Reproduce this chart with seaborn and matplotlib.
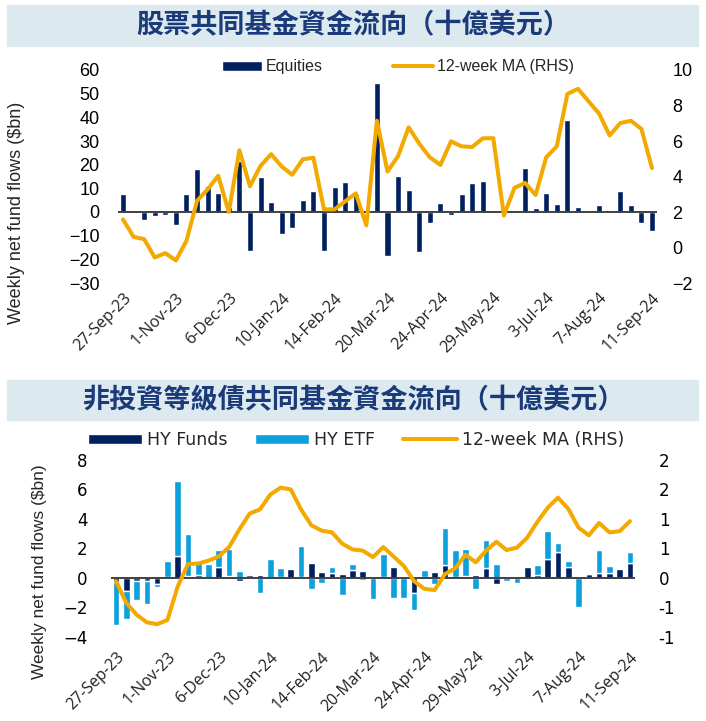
"""Weekly equity and high-yield fund flows with 12-week moving averages."""

import matplotlib

matplotlib.use("Agg")

import matplotlib.pyplot as plt
import numpy as np
import pandas as pd
import seaborn as sns
from matplotlib.patches import Rectangle

# ---- data -------------------------------------------------------------
weeks = pd.date_range("2023-09-27", periods=51, freq="7D")
week_labels = [f"{d.day}-{d.strftime('%b-%y')}" for d in weeks]

equity_flows = [7.7, 1.0, -3.4, -1.5, -1.3, -5.4, 7.7, 18.3, 11.0, 8.2,
                2.0, 21.5, -16.5, 14.8, 4.4, -9.4, -6.8, 4.9, 9.0, -16.5,
                10.4, 12.7, 7.8, 1.0, 54.4, -18.6, 15.4, 9.3, -16.9, -4.6,
                3.6, -1.1, 7.8, 12.4, 13.0, 0.8, 0.4, 0.0, 18.7, 1.7,
                8.0, 3.2, 39.0, 2.2, -0.3, 3.1, -0.4, 8.7, 3.0, -4.8, -8.2]
equity_ma = [1.58, 0.60, 0.47, -0.56, -0.32, -0.73, 0.38, 2.63, 3.27, 4.04,
             2.00, 5.48, 3.45, 4.60, 5.26, 4.56, 4.10, 4.97, 5.06, 2.15,
             2.15, 2.60, 3.05, 1.25, 7.14, 4.28, 5.15, 6.77, 5.85, 5.08,
             4.65, 5.98, 5.70, 5.66, 6.15, 6.16, 1.80, 3.36, 3.64, 2.96,
             5.08, 5.70, 8.65, 8.94, 8.24, 7.54, 6.31, 7.01, 7.14, 6.68, 4.47]

hy_funds = [-0.30, -0.93, -0.20, -0.25, -0.40, 0.05, 1.45, 0.10, 0.15, 0.00,
            0.70, 0.10, -0.25, 0.15, 0.15, 0.00, 0.05, 0.60, 0.05, 1.00,
            0.40, 0.30, 0.25, 0.50, 0.45, 0.05, 0.05, 0.70, 0.00, -1.05,
            0.05, 0.40, 0.85, 0.05, 0.10, 0.15, 0.65, -0.45, -0.05, 0.00,
            0.75, 0.20, 1.27, 1.73, 0.75, 0.00, 0.25, 0.35, 0.30, 0.60, 1.00]
hy_etf = [-2.90, -1.90, -1.30, -1.55, -0.25, 1.10, 5.15, 2.90, 0.95, 0.90,
          1.20, 1.85, 0.43, 0.10, -1.05, 1.30, 0.60, 0.00, 2.10, -0.80,
          -0.36, 0.40, -1.15, 0.45, -0.18, -1.45, 1.55, -1.40, -1.40, -1.15,
          0.45, -0.40, 2.55, 1.80, 1.85, -0.75, 1.90, 0.93, -0.15, -0.36,
          0.00, 0.66, 1.93, 0.63, 0.40, -2.00, 0.05, 1.55, 0.47, 0.00, 0.75]
hy_ma = [-0.06, -0.43, -0.63, -0.76, -0.79, -0.72, -0.15, 0.23, 0.24, 0.29,
         0.36, 0.52, 0.82, 1.09, 1.16, 1.41, 1.53, 1.50, 1.16, 0.89,
         0.80, 0.77, 0.58, 0.48, 0.46, 0.35, 0.52, 0.36, 0.20, -0.06,
         -0.19, -0.21, 0.06, 0.16, 0.39, 0.26, 0.46, 0.61, 0.47, 0.51,
         0.68, 0.95, 1.19, 1.36, 1.17, 0.85, 0.72, 0.93, 0.77, 0.79, 0.96]

eq_left_ticks = list(range(-30, 61, 10))
eq_right_ticks = list(range(-2, 11, 2))
hy_left_ticks = list(range(-4, 9, 2))
hy_right_ticks = [-1, -0.5, 0, 0.5, 1, 1.5, 2]
hy_right_labels = ["-1", "-1", "0", "1", "1", "2", "2"]  # Excel "0" format rounding

TITLE_TOP = "股票共同基金資金流向（十億美元）"
TITLE_BOTTOM = "非投資等級債共同基金資金流向（十億美元）"
YLABEL = "Weekly net fund flows ($bn)"

# ---- style --------------------------------------------------------------
NAVY = "#002060"
SKY = "#0CA0DC"
GOLD = "#F2A900"
AXIS = "#404040"
BAND = "#DCEAF0"
TITLE_C = "#1B3A7A"

sns.set_theme(style="white")
NARROW = ["Liberation Sans", "DejaVu Sans"]
WIDE = ["DejaVu Sans"]
DATES = ["Open Sans", "DejaVu Sans"]
CJK = ["Noto Sans CJK TC", "DejaVu Sans"]
plt.rcParams["font.family"] = NARROW

W, H = 706, 721


def fig_rect(x0, y0, x1, y1):
    """Pixel box (top-left origin) -> figure fraction [l, b, w, h]."""
    return [x0 / W, 1 - y1 / H, (x1 - x0) / W, (y1 - y0) / H]


def title_band(fig, y0, y1, text):
    l, b, w, h = fig_rect(7, y0, 698, y1)
    fig.patches.append(Rectangle((l, b), w, h, transform=fig.transFigure,
                                 color=BAND, zorder=0))
    fig.text(0.5, b + h / 2, text, ha="center", va="center", fontsize=19.5,
             fontweight="bold", color=TITLE_C, family=CJK)


def style_axes(ax, ax2, tick_font, tick_size, lpad, rpad, date_size, date_pad):
    for a in (ax, ax2):
        sns.despine(ax=a, left=True, bottom=True, right=True, top=True)
        a.tick_params(length=0)
        if a.get_legend() is not None:
            a.get_legend().remove()
    ax.tick_params(axis="y", pad=lpad)
    ax2.tick_params(axis="y", pad=rpad)
    for lab in ax.get_yticklabels() + ax2.get_yticklabels():
        lab.set_fontfamily(tick_font)
        lab.set_fontsize(tick_size)
        lab.set_color("black")
    ax.set_xticks(range(0, len(week_labels), 5))
    ax.set_xticklabels(week_labels[::5], rotation=45, ha="right", va="top",
                       rotation_mode="anchor", family=DATES, fontsize=date_size,
                       color="#202020")
    ax.tick_params(axis="x", pad=date_pad)
    ax.set_xlim(-0.5, len(week_labels) - 0.5)
    ax.axhline(0, color=AXIS, lw=1.4, zorder=3)
    ax.set_xlabel("")
    ax2.set_ylabel("")


fig = plt.figure(figsize=(W / 100, H / 100), dpi=100)

# ---- top panel: equities ----------------------------------------------
title_band(fig, 5, 46, TITLE_TOP)
ax1 = fig.add_axes(fig_rect(117.7, 70, 657.3, 283))
sns.barplot(x=week_labels, y=equity_flows, color=NAVY, saturation=1,
            width=0.57, errorbar=None, ax=ax1, label="Equities")
ax1.set_ylim(-30, 60)
ax1.set_yticks(eq_left_ticks)
ax1b = ax1.twinx()
sns.lineplot(x=np.arange(len(equity_ma)), y=equity_ma, color=GOLD, lw=2.9,
             ax=ax1b, label="12-week MA (RHS)", legend=False)
ax1b.set_ylim(-2, 10)
ax1b.set_yticks(eq_right_ticks)
style_axes(ax1, ax1b, NARROW, 13, 13, 11, 11.5, 5)
ax1.set_ylabel(YLABEL, family=NARROW, fontsize=13)
ax1.yaxis.set_label_coords(-0.172, 0.33)

h1, l1 = ax1.get_legend_handles_labels()
h2, l2 = ax1b.get_legend_handles_labels()
ax1b.legend(h1 + h2, l1 + l2, loc="center left", ncol=2, frameon=False,
            bbox_to_anchor=(222 / W, 1 - 67 / H), bbox_transform=fig.transFigure,
            borderpad=0, borderaxespad=0, handlelength=2.5, handleheight=0.6,
            handletextpad=0.25, columnspacing=4.4,
            prop={"family": NARROW, "size": 11.5})

# ---- bottom panel: high yield ------------------------------------------
title_band(fig, 380, 420, TITLE_BOTTOM)
ax2 = fig.add_axes(fig_rect(110.9, 460, 635.1, 636.5))
funds = np.array(hy_funds)
etf = np.array(hy_etf)
etf_base = np.where(np.sign(etf) == np.sign(funds), funds, 0.0)
sns.barplot(x=week_labels, y=hy_funds, color=NAVY, saturation=1, width=0.65,
            errorbar=None, ax=ax2, label="HY Funds")
sns.barplot(x=week_labels, y=hy_etf, color=SKY, saturation=1, width=0.65,
            errorbar=None, ax=ax2, label="HY ETF", bottom=etf_base)
ax2.set_ylim(-4, 8)
ax2.set_yticks(hy_left_ticks)
ax2b = ax2.twinx()
sns.lineplot(x=np.arange(len(hy_ma)), y=hy_ma, color=GOLD, lw=2.9,
             ax=ax2b, label="12-week MA (RHS)", legend=False)
ax2b.set_ylim(-1, 2)
ax2b.set_yticks(hy_right_ticks)
ax2b.set_yticklabels(hy_right_labels)
style_axes(ax2, ax2b, WIDE, 12, 17, 17, 11.5, 9)
ax2.set_ylabel(YLABEL, family=NARROW, fontsize=12.5)
ax2.yaxis.set_label_coords(-0.122, 0.37)

h1, l1 = ax2.get_legend_handles_labels()
h2, l2 = ax2b.get_legend_handles_labels()
ax2b.legend(h1 + h2, l1 + l2, loc="center left", ncol=3, frameon=False,
            bbox_to_anchor=(88 / W, 1 - 440 / H), bbox_transform=fig.transFigure,
            borderpad=0, borderaxespad=0, handlelength=3.1, handleheight=0.55,
            handletextpad=0.3, columnspacing=1.6,
            prop={"family": WIDE, "size": 12.5})

fig.savefig("out.png", dpi=100, facecolor="white")
